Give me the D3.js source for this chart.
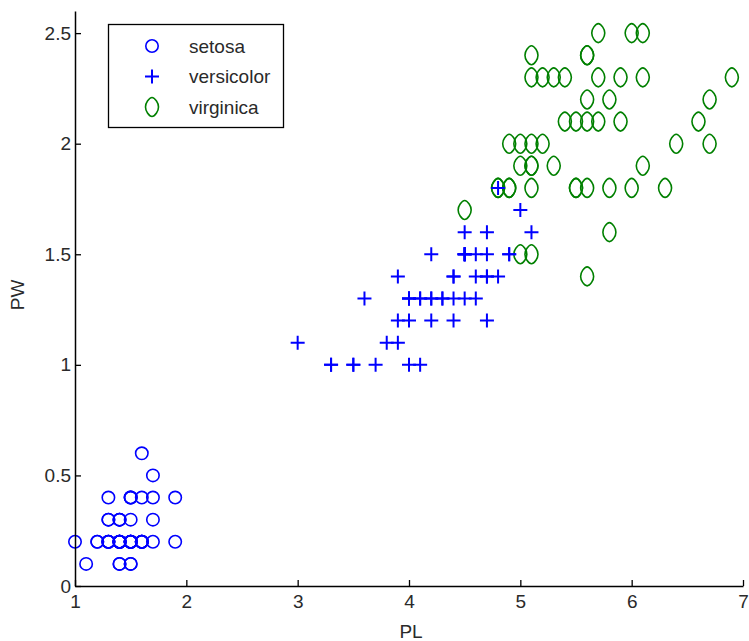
<!DOCTYPE html>
<html lang="en">
<head>
<meta charset="utf-8">
<title>Iris PL vs PW</title>
<script src="https://d3js.org/d3.v7.min.js"></script>
<style>
  body { margin: 0; background: white; }
  text { font-family: "Liberation Sans", Arial, sans-serif; fill: #2a2a2a; }
</style>
</head>
<body>
<div id="chart"></div>
<script>
// petal length / petal width, per species
var setosaPL = [1.4,1.4,1.3,1.5,1.4,1.7,1.4,1.5,1.4,1.5,1.5,1.6,1.4,1.1,1.2,1.5,1.3,1.4,1.7,1.5,
                1.7,1.5,1.0,1.7,1.9,1.6,1.6,1.5,1.4,1.6,1.6,1.5,1.5,1.4,1.5,1.2,1.3,1.4,1.3,1.5,
                1.3,1.3,1.3,1.6,1.9,1.4,1.6,1.4,1.5,1.4];
var setosaPW = [0.2,0.2,0.2,0.2,0.2,0.4,0.3,0.2,0.2,0.1,0.2,0.2,0.1,0.1,0.2,0.4,0.4,0.3,0.3,0.3,
                0.2,0.4,0.2,0.5,0.2,0.2,0.4,0.2,0.2,0.2,0.2,0.4,0.1,0.2,0.2,0.2,0.2,0.1,0.2,0.2,
                0.3,0.3,0.2,0.6,0.4,0.3,0.2,0.2,0.2,0.2];
var versicolorPL = [4.7,4.5,4.9,4.0,4.6,4.5,4.7,3.3,4.6,3.9,3.5,4.2,4.0,4.7,3.6,4.4,4.5,4.1,4.5,3.9,
                    4.8,4.0,4.9,4.7,4.3,4.4,4.8,5.0,4.5,3.5,3.8,3.7,3.9,5.1,4.5,4.5,4.7,4.4,4.1,4.0,
                    4.4,4.6,4.0,3.3,4.2,4.2,4.2,4.3,3.0,4.1];
var versicolorPW = [1.4,1.5,1.5,1.3,1.5,1.3,1.6,1.0,1.3,1.4,1.0,1.5,1.0,1.4,1.3,1.4,1.5,1.0,1.5,1.1,
                    1.8,1.3,1.5,1.2,1.3,1.4,1.4,1.7,1.5,1.0,1.1,1.0,1.2,1.6,1.5,1.6,1.5,1.3,1.3,1.3,
                    1.2,1.4,1.2,1.0,1.3,1.2,1.3,1.3,1.1,1.3];
var virginicaPL = [6.0,5.1,5.9,5.6,5.8,6.6,4.5,6.3,5.8,6.1,5.1,5.3,5.5,5.0,5.1,5.3,5.5,6.7,6.9,5.0,
                   5.7,4.9,6.7,4.9,5.7,6.0,4.8,4.9,5.6,5.8,6.1,6.4,5.6,5.1,5.6,6.1,5.6,5.5,4.8,5.4,
                   5.6,5.1,5.1,5.9,5.7,5.2,5.0,5.2,5.4,5.1];
var virginicaPW = [2.5,1.9,2.1,1.8,2.2,2.1,1.7,1.8,1.8,2.5,2.0,1.9,2.1,2.0,2.4,2.3,1.8,2.2,2.3,1.5,
                   2.3,2.0,2.0,1.8,2.1,1.8,1.8,1.8,2.1,1.6,1.9,2.0,2.2,1.5,1.4,2.3,2.4,1.8,1.8,2.1,
                   2.4,2.3,1.9,2.3,2.5,2.3,1.9,2.0,2.3,1.8];
var species = ["setosa", "versicolor", "virginica"];
var xTicks = [1, 2, 3, 4, 5, 6, 7];
var yTicks = [0, 0.5, 1, 1.5, 2, 2.5];

var W = 749, H = 641;
var svg = d3.select("#chart").append("svg")
    .attr("width", W).attr("height", H);

var x = d3.scaleLinear().domain([1, 7]).range([75, 743]);
var y = d3.scaleLinear().domain([0, 2.6]).range([586, 11]);

// marker shapes
var diamond = d3.line().curve(d3.curveCatmullRomClosed)(
    [[0,-9.5],[4.5,-6],[6.5,0],[4.5,6],[0,9.5],[-4.5,6],[-6.5,0],[-4.5,-6]]);

function drawMarker(g, kind) {
  if (kind == "setosa") {
    g.append("circle").attr("r", 6.2)
      .attr("fill", "none").attr("stroke", "#0000ff").attr("stroke-width", 1.6);
  } else if (kind == "versicolor") {
    g.append("path").attr("d", "M-7,0H7M0,-7V7")
      .attr("fill", "none").attr("stroke", "#0000ff").attr("stroke-width", 2);
  } else {
    g.append("path").attr("d", diamond)
      .attr("fill", "none").attr("stroke", "#008000").attr("stroke-width", 1.6);
  }
}

var sets = [
  {name: "setosa", pl: setosaPL, pw: setosaPW},
  {name: "virginica", pl: virginicaPL, pw: virginicaPW},
  {name: "versicolor", pl: versicolorPL, pw: versicolorPW}
];
sets.forEach(function(s) {
  s.pl.forEach(function(v, i) {
    var g = svg.append("g")
      .attr("transform", "translate(" + x(v) + "," + y(s.pw[i]) + ")");
    drawMarker(g, s.name);
  });
});

// axes (ticks pointing inward)
var xAxis = svg.append("g")
  .attr("transform", "translate(0," + y(0) + ")")
  .call(d3.axisBottom(x).tickValues(xTicks).tickSizeInner(-6).tickSizeOuter(0).tickPadding(9)
        .tickFormat(d3.format("d")));
var yAxis = svg.append("g")
  .attr("transform", "translate(" + x(1) + ",0)")
  .call(d3.axisLeft(y).tickValues(yTicks).tickSizeInner(-6).tickSizeOuter(0).tickPadding(4)
        .tickFormat(function(d) { return d; }));
[xAxis, yAxis].forEach(function(a) {
  a.select(".domain").attr("stroke", "#000").attr("stroke-width", 1.5);
  a.selectAll(".tick line").attr("stroke", "#000").attr("stroke-width", 1.3);
  a.selectAll(".tick text").style("font-size", "19px").attr("fill", "#2a2a2a")
    .style("font-family", "'Liberation Sans', Arial, sans-serif");
});

svg.append("text").attr("x", 411).attr("y", 631)
  .attr("text-anchor", "middle").attr("dy", "0.35em").style("font-size", "19px").text("PL");
svg.append("text")
  .attr("transform", "translate(17,295) rotate(-90)")
  .attr("text-anchor", "middle").attr("dy", "0.35em").style("font-size", "19px").text("PW");

// legend
var legend = svg.append("g");
legend.append("rect")
  .attr("x", 108.5).attr("y", 24.5).attr("width", 175).attr("height", 103)
  .attr("fill", "white").attr("stroke", "#000").attr("stroke-width", 1.3);
species.forEach(function(name, i) {
  var yy = 46 + i * 30.5;
  var g = legend.append("g").attr("transform", "translate(152," + yy + ")");
  drawMarker(g, name);
  legend.append("text").attr("x", 189).attr("y", yy)
    .attr("dy", "0.35em").style("font-size", "19px").text(name);
});
</script>
</body>
</html>
